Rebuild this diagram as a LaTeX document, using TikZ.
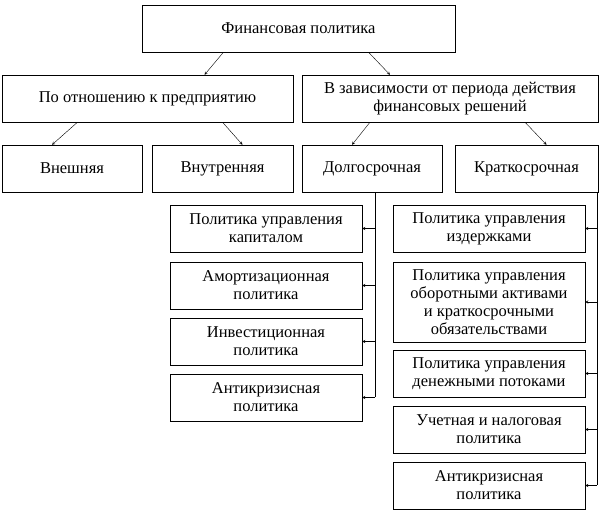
\documentclass[tikz,border=0pt]{standalone}
\usepackage{fontspec}
\setmainfont{Liberation Serif}
\begin{document}
\begin{tikzpicture}[>=stealth,x=1pt,y=-1pt,
    box/.style={draw,align=center,inner sep=1pt,font=\fontsize{16.5}{18}\selectfont}]
    \useasboundingbox (0,0) rectangle (600,510);
    % top and second level
    \node[box,minimum width=313pt,minimum height=47pt] (fin) at (298.5,28.5) {Финансовая политика};
    \node[box,minimum width=291pt,minimum height=47pt] (pred) at (147.5,98.5) {По отношению к предприятию};
    \node[box,minimum width=296pt,minimum height=47pt] (per) at (450,98.5) {В зависимости от периода действия\\финансовых решений};
    % third level
    \foreach \n/\x/\w/\t in {vn/72/140/Внешняя,vt/222.5/141/Внутренняя,dl/372/140/Долгосрочная,kr/526.5/143/Краткосрочная}
        \node[box,minimum width=\w pt,minimum height=47pt] (\n) at (\x,168.5) {\t};
    \foreach \a/\b/\s/\t in {fin/pred/-75/57,fin/per/70/-60,pred/vn/-70/-20,pred/vt/75/20,per/dl/-80/-20,per/kr/75/20}
        \draw[->] ([xshift=\s pt]\a.south) -- ([xshift=\t pt]\b.north);
    % long-term
    \foreach \n/\y/\h/\t in {l1/228.5/47/{Политика управления\\капиталом},
        l2/285.5/47/{Амортизационная\\политика},
        l3/341.5/47/{Инвестиционная\\политика},
        l4/397.5/47/{Антикризисная\\политика}}
        \node[box,minimum width=192pt,minimum height=\h pt] (\n) at (266,\y) {\t};
    \coordinate (ld) at (375,397.5);
    \draw ([xshift=3pt]dl.south) |- (ld);
    \foreach \n in {l1,l2,l3,l4}
        \draw[->] (ld |- \n.east) -- (\n.east);
    % short-term
    \foreach \n/\y/\h/\t in {k1/228.5/47/{Политика управления\\издержками},
        k2/302/80/{Политика управления\\оборотными активами\\и краткосрочными\\обязательствами},
        k3/373.5/47/{Политика управления\\денежными потоками},
        k4/429.5/47/{Учетная и налоговая\\политика},
        k5/485.5/47/{Антикризисная\\политика}}
        \node[box,minimum width=192pt,minimum height=\h pt] (\n) at (489,\y) {\t};
    \coordinate (kd) at (597,485.5);
    \draw (kd |- kr.south) -- (kd);
    \foreach \n in {k1,k2,k3,k4,k5}
        \draw[->] (kd |- \n.east) -- (\n.east);
\end{tikzpicture}
\end{document}
